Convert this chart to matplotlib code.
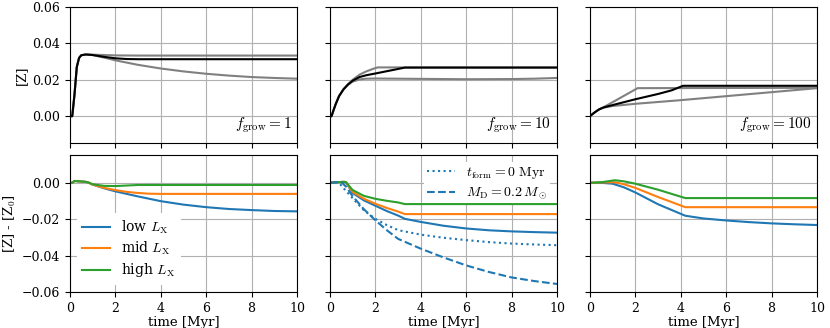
import numpy as np
import matplotlib
matplotlib.use("Agg")
import matplotlib.pyplot as plt

plt.rcParams['font.family'] = ['DejaVu Serif']
plt.rcParams['mathtext.fontset'] = 'cm'
plt.rcParams['font.size'] = 9.5
plt.rcParams['xtick.labelsize'] = 9
plt.rcParams['ytick.labelsize'] = 9

# ---------------- top row: [Z] vs time ----------------
fgrow_labels = ["$f_\\mathrm{grow} = 1$", "$f_\\mathrm{grow} = 10$", "$f_\\mathrm{grow} = 100$"]

# f_grow = 1
t_a_hi = [0, 0.1, 0.2, 0.3, 0.4, 0.5, 0.7, 1.0, 1.5, 2, 3, 10]
z_a_hi = [0, 0, 0.012, 0.027, 0.032, 0.0335, 0.0339, 0.0338, 0.0336, 0.0334, 0.0333, 0.0333]
t_a_mid = [0, 0.1, 0.2, 0.3, 0.4, 0.5, 0.7, 1.0, 1.5, 2, 2.5, 3, 10]
z_a_mid = [0, 0, 0.012, 0.027, 0.032, 0.0335, 0.0339, 0.0336, 0.0326, 0.0318, 0.0314, 0.0313, 0.0313]
t_a_lo = [0, 0.1, 0.2, 0.3, 0.4, 0.5, 0.7, 1.0, 1.5, 2, 3, 4, 5, 6, 7, 8, 9, 10]
z_a_lo = [0, 0, 0.012, 0.027, 0.032, 0.0335, 0.0339, 0.0336, 0.0322, 0.0307, 0.0282, 0.0262, 0.0246,
          0.0233, 0.0223, 0.0215, 0.021, 0.0206]

# f_grow = 10
t_b_hi = [0, 0.07, 0.15, 0.25, 0.4, 0.6, 0.8, 1.0, 1.3, 1.6, 1.9, 2.1, 10]
z_b_hi = [0, 0, 0.003, 0.0065, 0.011, 0.0148, 0.0175, 0.0200, 0.0228, 0.0246, 0.026, 0.0268, 0.0268]
t_b_mid = [0, 0.07, 0.15, 0.25, 0.4, 0.6, 0.8, 1.0, 1.3, 1.6, 2.1, 2.7, 3.3, 10]
z_b_mid = [0, 0, 0.003, 0.0065, 0.011, 0.0148, 0.0175, 0.0195, 0.0215, 0.0225, 0.0237, 0.0252, 0.0267, 0.0267]
t_b_lo = [0, 0.07, 0.15, 0.25, 0.4, 0.6, 0.8, 1.0, 1.3, 1.6, 2, 3, 4, 6, 8, 9, 10]
z_b_lo = [0, 0, 0.003, 0.0065, 0.011, 0.0148, 0.0172, 0.019, 0.0202, 0.0206, 0.0207, 0.0206, 0.0205,
          0.0203, 0.0204, 0.0206, 0.021]

# f_grow = 100
t_c_hi = [0, 0.2, 0.4, 0.6, 2.1, 10]
z_c_hi = [0, 0.002, 0.0037, 0.0049, 0.0154, 0.0156]
t_c_mid = [0, 0.2, 0.4, 0.6, 1.0, 2.0, 3.0, 3.6, 4.1, 10]
z_c_mid = [0, 0.002, 0.0037, 0.0048, 0.0061, 0.0093, 0.0122, 0.0142, 0.0167, 0.0167]
t_c_lo = [0, 0.2, 0.4, 0.6, 1.0, 2.0, 4.0, 6.0, 8.0, 10]
z_c_lo = [0, 0.002, 0.0037, 0.0047, 0.0056, 0.0068, 0.0088, 0.0110, 0.0132, 0.0154]

# ---------------- bottom row: [Z]-[Z0] vs time ----------------
lx_labels = ["low $L_\\mathrm{X}$", "mid $L_\\mathrm{X}$", "high $L_\\mathrm{X}$"]
extra_labels = ["$t_\\mathrm{form} = 0\\ \\mathrm{Myr}$", "$M_\\mathrm{D} = 0.2\\,M_\\odot$"]

# f_grow = 1
t_d_low = [0, 0.1, 0.2, 0.4, 0.7, 0.8, 1.0, 1.5, 2, 3, 4, 5, 6, 7, 8, 9, 10]
d_d_low = [0, 0, 0.001, 0.0008, 0.0005, 0.0002, -0.001, -0.003, -0.0047, -0.0075, -0.0101, -0.012,
           -0.0134, -0.0144, -0.015, -0.0155, -0.0157]
t_d_mid = [0, 0.1, 0.2, 0.4, 0.7, 0.8, 1.0, 1.5, 2, 2.5, 3, 3.5, 4, 10]
d_d_mid = [0, 0, 0.001, 0.0008, 0.0005, 0.0002, -0.001, -0.0028, -0.004, -0.005, -0.0056, -0.006,
           -0.0061, -0.0061]
t_d_high = [0, 0.1, 0.2, 0.4, 0.7, 0.8, 1.0, 1.5, 2, 2.5, 3, 10]
d_d_high = [0, 0, 0.001, 0.0008, 0.0005, 0.0002, -0.0008, -0.0017, -0.0018, -0.0015, -0.0012, -0.0012]

# f_grow = 10
t_e_low = [0, 0.3, 0.6, 0.7, 1.0, 1.5, 2, 2.5, 3, 3.3, 4, 5, 6, 7, 8, 9, 10]
d_e_low = [0, 0.0003, 0.0005, 0.0004, -0.0056, -0.0097, -0.0126, -0.0155, -0.018, -0.0198, -0.0215,
           -0.0236, -0.0251, -0.0261, -0.0267, -0.0271, -0.0274]
t_e_mid = [0, 0.3, 0.6, 0.7, 1.0, 1.5, 2, 2.5, 3, 3.3, 10]
d_e_mid = [0, 0.0003, 0.0005, 0.0004, -0.005, -0.0088, -0.0115, -0.0138, -0.0158, -0.0172, -0.0172]
t_e_high = [0, 0.3, 0.6, 0.7, 1.0, 1.5, 2, 2.5, 3, 3.3, 10]
d_e_high = [0, 0.0003, 0.0005, 0.0004, -0.004, -0.0072, -0.0088, -0.0099, -0.0108, -0.0117, -0.0117]
t_e_tform = [0, 0.3, 0.4, 0.6, 1.0, 1.5, 2, 2.5, 3, 4, 5, 6, 7, 8, 9, 10]
d_e_tform = [0, 0.0003, 0.0, -0.003, -0.0085, -0.0152, -0.0198, -0.0232, -0.026, -0.0285, -0.0302,
             -0.0315, -0.0326, -0.0334, -0.0339, -0.0343]
t_e_md = [0, 0.3, 0.5, 0.7, 1.0, 1.5, 2, 2.5, 3, 4, 5, 6, 7, 8, 9, 10]
d_e_md = [0, 0.0003, 0.0004, -0.002, -0.0074, -0.0146, -0.0206, -0.026, -0.0308, -0.0362, -0.041,
          -0.0454, -0.049, -0.052, -0.054, -0.0556]

# f_grow = 100
t_f_low = [0, 0.5, 1.0, 1.5, 2, 3, 4.2, 5, 6, 7, 8, 9, 10]
d_f_low = [0, 0.0, -0.0005, -0.0025, -0.0053, -0.0118, -0.0181, -0.0196, -0.0207, -0.0216, -0.0223,
           -0.0228, -0.0232]
t_f_mid = [0, 0.5, 1.1, 1.5, 2, 3, 4.2, 10]
d_f_mid = [0, 0.0002, 0.0003, -0.0008, -0.0028, -0.0078, -0.0134, -0.0134]
t_f_high = [0, 0.5, 1.1, 1.5, 2, 3, 4.2, 10]
d_f_high = [0, 0.0003, 0.0014, 0.0008, -0.0005, -0.0038, -0.0084, -0.0084]

xticks = [0, 2, 4, 6, 8, 10]
yticks_top = [0.00, 0.02, 0.04, 0.06]
yticks_bot = [0.00, -0.02, -0.04, -0.06]

fig, axes = plt.subplots(2, 3, figsize=(8.3, 3.28), dpi=100, sharex=True)
fig.subplots_adjust(left=0.0843, right=0.9843, top=0.9787, bottom=0.1098,
                    wspace=0.145, hspace=0.088)

gray = '0.5'
top_data = [
    [(t_a_hi, z_a_hi), (t_a_lo, z_a_lo), (t_a_mid, z_a_mid)],
    [(t_b_hi, z_b_hi), (t_b_lo, z_b_lo), (t_b_mid, z_b_mid)],
    [(t_c_hi, z_c_hi), (t_c_lo, z_c_lo), (t_c_mid, z_c_mid)],
]
for i, ax in enumerate(axes[0]):
    (th, zh), (tl, zl), (tm, zm) = top_data[i]
    ax.plot(th, zh, color=gray, lw=1.5)
    ax.plot(tl, zl, color=gray, lw=1.5)
    ax.plot(tm, zm, color='black', lw=1.5)
    ax.set_ylim(-0.015, 0.06)
    ax.set_yticks(yticks_top)
    ax.grid(True)
    ax.text(0.975, 0.06, fgrow_labels[i], transform=ax.transAxes, ha='right', va='bottom',
            fontsize=11)
    if i > 0:
        ax.set_yticklabels([])
axes[0, 0].set_ylabel('[Z]', labelpad=3)

c0, c1, c2 = 'C0', 'C1', 'C2'
bot_data = [
    [(t_d_low, d_d_low), (t_d_mid, d_d_mid), (t_d_high, d_d_high)],
    [(t_e_low, d_e_low), (t_e_mid, d_e_mid), (t_e_high, d_e_high)],
    [(t_f_low, d_f_low), (t_f_mid, d_f_mid), (t_f_high, d_f_high)],
]
for i, ax in enumerate(axes[1]):
    for (t, d), c, lab in zip(bot_data[i], [c0, c1, c2], lx_labels):
        ax.plot(t, d, color=c, lw=1.5, label=lab)
    ax.set_ylim(-0.06, 0.015)
    ax.set_yticks(yticks_bot)
    ax.set_xlim(0, 10)
    ax.set_xticks(xticks)
    ax.grid(True)
    ax.set_xlabel('time [Myr]', labelpad=1)
    if i > 0:
        ax.set_yticklabels([])

axes[1, 0].set_ylabel('[Z] - [Z$_0$]', labelpad=3)
axes[1, 0].legend(loc='lower left', frameon=True, edgecolor='none', framealpha=1.0,
                  fontsize=10, handlelength=2.0, labelspacing=0.3, borderaxespad=0.5)

ax = axes[1, 1]
l1, = ax.plot(t_e_tform, d_e_tform, color=c0, lw=1.5, ls=':')
l2, = ax.plot(t_e_md, d_e_md, color=c0, lw=1.5, ls='--')
leg = ax.legend([l1, l2], extra_labels, loc='upper right', frameon=True, edgecolor='none',
                framealpha=1.0, fontsize=10, borderaxespad=0.5, borderpad=0.2,
                labelspacing=0.3, handlelength=2.0)
leg.set_zorder(1.8)

for ax in axes[0]:
    ax.set_xlim(0, 10)

fig.savefig('out.png', dpi=100)
